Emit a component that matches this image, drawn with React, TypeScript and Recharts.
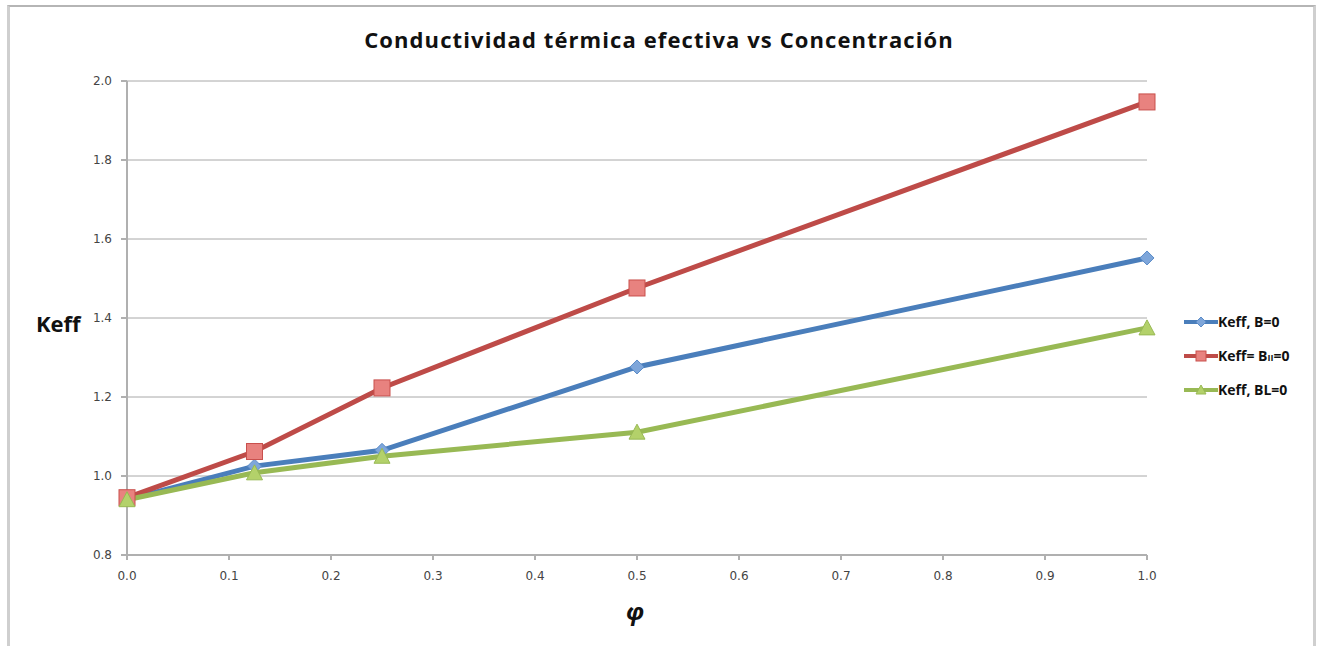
import React from 'react';
import { LineChart, Line, XAxis, YAxis, CartesianGrid } from 'recharts';

const phi = [0, 0.125, 0.25, 0.5, 1.0];
const keffB = [0.94, 1.025, 1.065, 1.276, 1.552];
const keffBpar = [0.945, 1.062, 1.223, 1.476, 1.947];
const keffBL = [0.94, 1.008, 1.05, 1.111, 1.375];

const xTicks = [0, 0.1, 0.2, 0.3, 0.4, 0.5, 0.6, 0.7, 0.8, 0.9, 1.0];
const yTicks = [0.8, 1.0, 1.2, 1.4, 1.6, 1.8, 2.0];

const data = phi.map((p, i) => ({ phi: p, b: keffB[i], bpar: keffBpar[i], bl: keffBL[i] }));

const BLUE = '#4A7EBB';
const RED = '#BE4B48';
const GREEN = '#98B954';

const Diamond = ({ cx, cy, r = 7 }: any) => (
  <path d={`M${cx},${cy - r} L${cx + r},${cy} L${cx},${cy + r} L${cx - r},${cy} Z`} fill="#7EA6DA" stroke="#5B8CC8" strokeWidth={1} />
);
const Square = ({ cx, cy }: any) => (
  <rect x={cx - 8} y={cy - 8} width={16} height={16} fill="#E8827F" stroke="#C9504D" strokeWidth={1} />
);
const Triangle = ({ cx, cy }: any) => (
  <path d={`M${cx},${cy - 8} L${cx + 8},${cy + 7} L${cx - 8},${cy + 7} Z`} fill="#B3D16A" stroke="#98B954" strokeWidth={1} />
);

const legendItems = [
  { color: BLUE, marker: 'diamond', label: <>Keff, B=0</> },
  { color: RED, marker: 'square', label: <>Keff= B<tspan fontSize={9}>II</tspan>=0</> },
  { color: GREEN, marker: 'triangle', label: <>Keff, BL=0</> },
];

const LegendBox = () => (
  <svg width={130} height={110}>
    {legendItems.map((it, i) => {
      const y = 12 + i * 34;
      return (
        <g key={i}>
          <line x1={2} y1={y} x2={36} y2={y} stroke={it.color} strokeWidth={4} />
          {it.marker === 'diamond' && <Diamond cx={19} cy={y} r={5} />}
          {it.marker === 'square' && <rect x={14} y={y - 5} width={10} height={10} fill="#E8827F" stroke="#C9504D" />}
          {it.marker === 'triangle' && <path d={`M19,${y - 5} L24,${y + 4} L14,${y + 4} Z`} fill="#B3D16A" stroke="#98B954" />}
          <text x={36} y={y + 5} fontSize={14} fontWeight="bold" fill="#111" fontFamily="'Open Sans', sans-serif">{it.label}</text>
        </g>
      );
    })}
  </svg>
);

export default function App() {
  return (
    <div style={{ position: 'absolute', left: 0, top: 0, width: 1318, height: 646, background: '#fff', overflow: 'hidden' }}>
      <div style={{ position: 'absolute', left: 7, top: 5, width: 1303, height: 700, borderLeft: '3px solid #cfcfcf', borderRight: '3px solid #cfcfcf', borderTop: '2px solid #b5b5b5' }} />
      <div style={{ position: 'absolute', left: 0, width: 1318, top: 24, textAlign: 'center', fontFamily: "'Open Sans', sans-serif", fontWeight: 700, fontSize: 22, letterSpacing: 1.1, color: '#111' }}>
        Conductividad térmica efectiva vs Concentración
      </div>
      <div style={{ position: 'absolute', left: 36, top: 308, fontFamily: "'Open Sans', sans-serif", fontWeight: 700, fontSize: 22, color: '#111' }}>Keff</div>
      <div style={{ position: 'absolute', left: 626, top: 594, fontFamily: "'Open Sans', sans-serif", fontWeight: 700, fontStyle: 'italic', fontSize: 24, color: '#111' }}>φ</div>
      <div style={{ position: 'absolute', left: 1182, top: 310 }}>
        <LegendBox />
      </div>
      <div style={{ position: 'absolute', left: 0, top: 0 }}>
        <LineChart width={1318} height={646} data={data} margin={{ top: 81, right: 171, bottom: 61, left: 67 }}>
          <CartesianGrid horizontal vertical={false} stroke="#a8a8a8" strokeWidth={1} />
          <XAxis
            dataKey="phi"
            type="number"
            domain={[0, 1]}
            ticks={xTicks}
            tickFormatter={(v: number) => v.toFixed(1)}
            height={30}
            stroke="#b0b0b0"
            strokeWidth={2}
            tickSize={5}
            tick={{ fill: '#444', fontSize: 12, fontFamily: "'DejaVu Sans', sans-serif" }}
            tickMargin={11}
          />
          <YAxis
            type="number"
            domain={[0.8, 2.0]}
            ticks={yTicks}
            tickFormatter={(v: number) => v.toFixed(1)}
            width={60}
            stroke="#b0b0b0"
            strokeWidth={2}
            tickSize={6}
            tickMargin={9}
            tick={{ fill: '#444', fontSize: 12, fontFamily: "'DejaVu Sans', sans-serif" }}
          />
          <Line dataKey="b" name="Keff, B=0" stroke={BLUE} strokeWidth={5} isAnimationActive={false}
            dot={(p: any) => <Diamond key={`b${p.index}`} cx={p.cx} cy={p.cy} />} />
          <Line dataKey="bpar" name="Keff= BII=0" stroke={RED} strokeWidth={5} isAnimationActive={false}
            dot={(p: any) => <Square key={`r${p.index}`} cx={p.cx} cy={p.cy} />} />
          <Line dataKey="bl" name="Keff, BL=0" stroke={GREEN} strokeWidth={5} isAnimationActive={false}
            dot={(p: any) => <Triangle key={`g${p.index}`} cx={p.cx} cy={p.cy} />} />
        </LineChart>
      </div>
    </div>
  );
}
